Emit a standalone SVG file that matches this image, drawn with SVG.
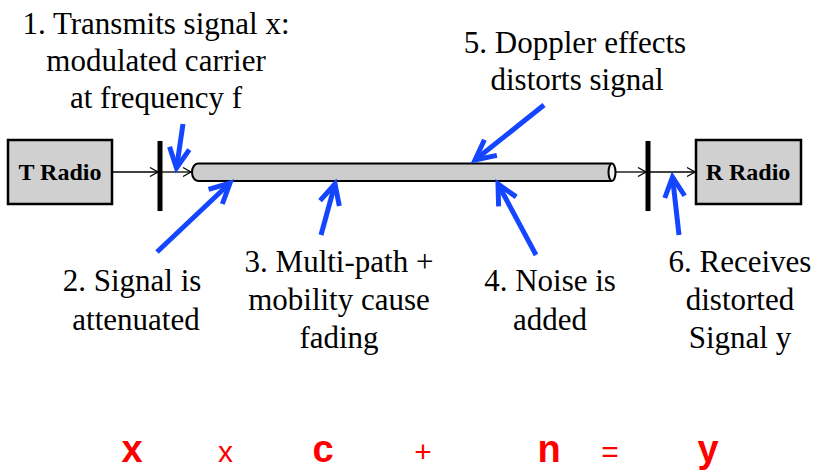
<svg xmlns="http://www.w3.org/2000/svg" width="818" height="471" viewBox="0 0 818 471">
<style>
.lbl{font-family:"Liberation Serif","Times New Roman",serif;font-size:31px;fill:#000;text-anchor:middle}
.box{fill:#d0d0d0;stroke:#000;stroke-width:2.5}
.btxt{font-family:"Liberation Serif","Times New Roman",serif;font-size:24px;font-weight:bold;fill:#000;text-anchor:middle}
.wire{stroke:#000;stroke-width:1.3;fill:none;marker-end:url(#chev)}
.blue{stroke:#1446ff;stroke-width:5;fill:none;marker-end:url(#bhead)}
.eq{font-family:"Liberation Sans",Arial,sans-serif;fill:#ff0000;text-anchor:middle}
.eqb{font-size:38px;font-weight:bold}
.eqr{font-size:30px}
</style>
<defs>
<marker id="chev" markerUnits="userSpaceOnUse" markerWidth="12" markerHeight="12" viewBox="-10 -6 12 12" refX="0" refY="0" orient="auto" overflow="visible">
<path d="M -8 -4.5 L 0 0 L -8 4.5" fill="none" stroke="#000" stroke-width="1.3"/>
</marker>
<marker id="bhead" markerUnits="userSpaceOnUse" markerWidth="30" markerHeight="30" viewBox="-25 -15 30 30" refX="0" refY="0" orient="auto" overflow="visible">
<path d="M -20 -10 L 0 0 L -20 10" fill="none" stroke="#1446ff" stroke-width="5" stroke-linejoin="miter" stroke-linecap="butt"/>
</marker>
</defs>

<g id="t-radio">
<rect class="box" x="8" y="140" width="104" height="64"/>
<text class="btxt" x="60" y="180">T Radio</text>
</g>
<g id="r-radio">
<rect class="box" x="696" y="140" width="105" height="64"/>
<text class="btxt" x="748" y="180">R Radio</text>
</g>
<g id="channel">
<path d="M 612 163.5 L 198 163.5 A 6 8.75 0 0 0 198 181 L 612 181" fill="#cccccc" stroke="#000" stroke-width="2"/>
<ellipse cx="612" cy="172.25" rx="3.5" ry="8.75" fill="#f2f2f2" stroke="#000" stroke-width="2"/>
</g>
<g id="tx-antenna"><rect x="157.5" y="141" width="5" height="70" fill="#000"/></g>
<g id="rx-antenna"><rect x="645.5" y="141" width="5" height="70" fill="#000"/></g>

<g id="connectors">
<line class="wire" x1="112" y1="172" x2="158" y2="172"/>
<line class="wire" x1="162" y1="172" x2="191" y2="172"/>
<line class="wire" x1="616" y1="172" x2="646" y2="172"/>
<line class="wire" x1="650" y1="172" x2="695" y2="172"/>
<line class="blue" x1="183" y1="124" x2="176.5" y2="168"/>
<line class="blue" x1="157" y1="252" x2="230" y2="183"/>
<line class="blue" x1="321" y1="235" x2="335" y2="184"/>
<line class="blue" x1="536" y1="255" x2="498" y2="184"/>
<line class="blue" x1="544" y1="105" x2="475" y2="160"/>
<line class="blue" x1="679" y1="235" x2="672.5" y2="177"/>
</g>

<g id="label-1">
<text class="lbl" x="156" y="34">1. Transmits signal x:</text>
<text class="lbl" x="156" y="71">modulated carrier</text>
<text class="lbl" x="156" y="108">at frequency f</text>
</g>
<g id="label-5">
<text class="lbl" x="575" y="53">5. Doppler effects</text>
<text class="lbl" x="577" y="90">distorts signal</text>
</g>
<g id="label-2">
<text class="lbl" x="132" y="291">2. Signal is</text>
<text class="lbl" x="136" y="330">attenuated</text>
</g>
<g id="label-3">
<text class="lbl" x="339" y="272">3. Multi-path +</text>
<text class="lbl" x="339" y="310">mobility cause</text>
<text class="lbl" x="339" y="348">fading</text>
</g>
<g id="label-4">
<text class="lbl" x="550" y="291">4. Noise is</text>
<text class="lbl" x="550" y="330">added</text>
</g>
<g id="label-6">
<text class="lbl" x="740" y="272">6. Receives</text>
<text class="lbl" x="740" y="310">distorted</text>
<text class="lbl" x="740" y="348">Signal y</text>
</g>

<g id="equation">
<text class="eq eqb" x="132" y="462">x</text>
<text class="eq eqr" x="225.5" y="462">x</text>
<text class="eq eqb" x="323" y="462">c</text>
<text class="eq eqr" x="423" y="462">+</text>
<text class="eq eqb" x="549" y="462">n</text>
<text class="eq eqr" x="610" y="462">=</text>
<text class="eq eqb" x="708" y="462">y</text>
</g>
</svg>
